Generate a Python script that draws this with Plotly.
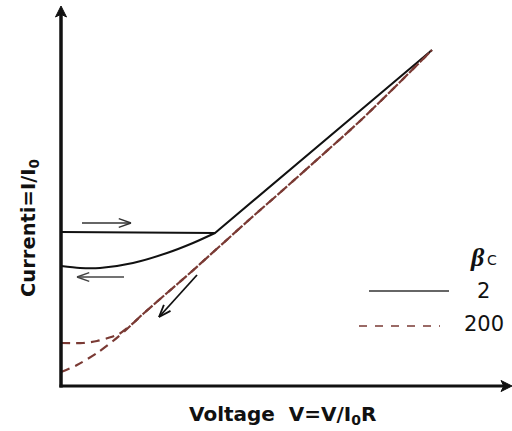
import math
import plotly.graph_objects as go

# Normalised voltage v = V/I0R and current i = I/I0 (arbitrary units, no ticks)
# beta_c = 2: forward sweep (flat branch, then ohmic line) and return sweep
b2_fwd_v = [0.00, 1.54, 3.71]
b2_fwd_i = [1.54, 1.53, 3.36]
b2_ret_v = [0.00, 0.19, 0.39, 0.72, 1.06, 1.32, 1.54]
b2_ret_i = [1.20, 1.18, 1.18, 1.23, 1.33, 1.43, 1.53]

# beta_c = 200: lower branch from the origin region, upper branch joining it
b200_low_v = [0.00, 0.16, 0.36, 0.52, 0.66, 0.82, 1.06, 1.29, 1.49, 1.69, 1.89, 2.22, 2.59, 2.99, 3.39, 3.71]
b200_low_i = [0.14, 0.21, 0.33, 0.45, 0.57, 0.72, 0.93, 1.13, 1.31, 1.49, 1.67, 1.96, 2.29, 2.65, 3.04, 3.36]
b200_up_v = [0.00, 0.22, 0.36, 0.47, 0.58, 0.70] + b200_low_v[5:]
b200_up_i = [0.43, 0.43, 0.45, 0.48, 0.52, 0.61] + b200_low_i[5:]

legend_title = "β"
legend_sub = "C"
legend_labels = ["2", "200"]

x_title = "Voltage  V=V/I<sub>0</sub>R"
y_title = "Currenti=I/I<sub>0</sub>"

BLACK = "#111111"
BROWN = "#7a3a34"

fig = go.Figure()

fig.add_trace(go.Scatter(x=b2_fwd_v, y=b2_fwd_i, mode="lines",
                         line=dict(color=BLACK, width=2), hoverinfo="skip"))
fig.add_trace(go.Scatter(x=b2_ret_v, y=b2_ret_i, mode="lines",
                         line=dict(color=BLACK, width=2, shape="spline", smoothing=0.8),
                         hoverinfo="skip"))
fig.add_trace(go.Scatter(x=b200_low_v, y=b200_low_i, mode="lines",
                         line=dict(color=BROWN, width=2.2, dash="9px,6px",
                                   shape="spline", smoothing=0.8),
                         hoverinfo="skip"))
fig.add_trace(go.Scatter(x=b200_up_v, y=b200_up_i, mode="lines",
                         line=dict(color=BROWN, width=2.2, dash="9px,6px",
                                   shape="spline", smoothing=0.8),
                         hoverinfo="skip"))

shapes = []


def seg(x0, y0, x1, y1, color, width, dash="solid"):
    shapes.append(dict(type="line", xref="x", yref="y", x0=x0, y0=y0, x1=x1, y1=y1,
                       line=dict(color=color, width=width, dash=dash), layer="above"))


def open_arrow(tail, tip, color, width, head=0.13, spread=20):
    """Straight arrow with an open chevron head (equal x/y scaling)."""
    seg(tail[0], tail[1], tip[0], tip[1], color, width)
    ang = math.atan2(tail[1] - tip[1], tail[0] - tip[0])
    for s in (-1, 1):
        a = ang + s * math.radians(spread)
        seg(tip[0], tip[1], tip[0] + head * math.cos(a), tip[1] + head * math.sin(a), color, width)


def axis_arrow(tail, tip, width, head=0.11, half=0.055):
    ang = math.atan2(tip[1] - tail[1], tip[0] - tail[0])
    seg(tail[0], tail[1], tip[0] - 0.5 * head * math.cos(ang),
        tip[1] - 0.5 * head * math.sin(ang), BLACK, width)
    bx, by = tip[0] - head * math.cos(ang), tip[1] - head * math.sin(ang)
    px, py = -math.sin(ang) * half, math.cos(ang) * half
    nx, ny = bx + 0.25 * head * math.cos(ang), by + 0.25 * head * math.sin(ang)
    path = (f"M {tip[0]},{tip[1]} L {bx + px},{by + py} "
            f"L {nx},{ny} L {bx - px},{by - py} Z")
    shapes.append(dict(type="path", xref="x", yref="y", path=path,
                       fillcolor=BLACK, line=dict(color=BLACK, width=1), layer="above"))


# axes with arrow tips
axis_arrow((0.0, -0.015), (0.0, 3.80), 3.5)
axis_arrow((-0.015, 0.0), (4.51, 0.0), 3.2)

# sweep-direction arrows
open_arrow((0.21, 1.63), (0.70, 1.63), "#333333", 1.4)
open_arrow((0.63, 1.09), (0.16, 1.09), "#444444", 1.4)
open_arrow((1.36, 1.11), (0.98, 0.69), BLACK, 1.8)

# legend samples
seg(3.08, 0.95, 3.88, 0.95, "#333333", 1.5)
seg(2.98, 0.60, 3.79, 0.60, BROWN, 1.4, dash="8px,8px")

annotations = [
    dict(x=4.16, y=1.29, text=f"<b><i>{legend_title}</i></b>", showarrow=False,
         font=dict(family="Liberation Serif", size=26, color=BLACK)),
    dict(x=4.31, y=1.26, text=legend_sub, showarrow=False,
         font=dict(family="DejaVu Sans", size=14, color=BLACK)),
    dict(x=4.22, y=0.95, text=legend_labels[0], showarrow=False,
         font=dict(family="DejaVu Sans", size=21, color=BLACK)),
    dict(x=4.23, y=0.62, text=legend_labels[1], showarrow=False,
         font=dict(family="DejaVu Sans", size=21, color=BLACK)),
    dict(x=2.21, y=-0.29, text=f"<b>{x_title}</b>", showarrow=False,
         font=dict(family="DejaVu Sans", size=20, color=BLACK)),
    dict(x=-0.32, y=1.58, text=f"<b>{y_title}</b>", showarrow=False, textangle=-90,
         font=dict(family="DejaVu Sans", size=19.5, color=BLACK)),
]
for a in annotations:
    a.update(xref="x", yref="y")

# the plotting area spans the whole page; the drawn axes sit at v = 0 and i = 0
fig.update_layout(
    width=512, height=431,
    margin=dict(l=0, r=0, t=0, b=0),
    paper_bgcolor="white", plot_bgcolor="white",
    showlegend=False,
    xaxis=dict(range=[-0.61, 4.51], visible=False, fixedrange=True),
    yaxis=dict(range=[-0.45, 3.86], visible=False, fixedrange=True),
    shapes=shapes,
    annotations=annotations,
)

fig.write_html("out.html", config={"displayModeBar": False})
